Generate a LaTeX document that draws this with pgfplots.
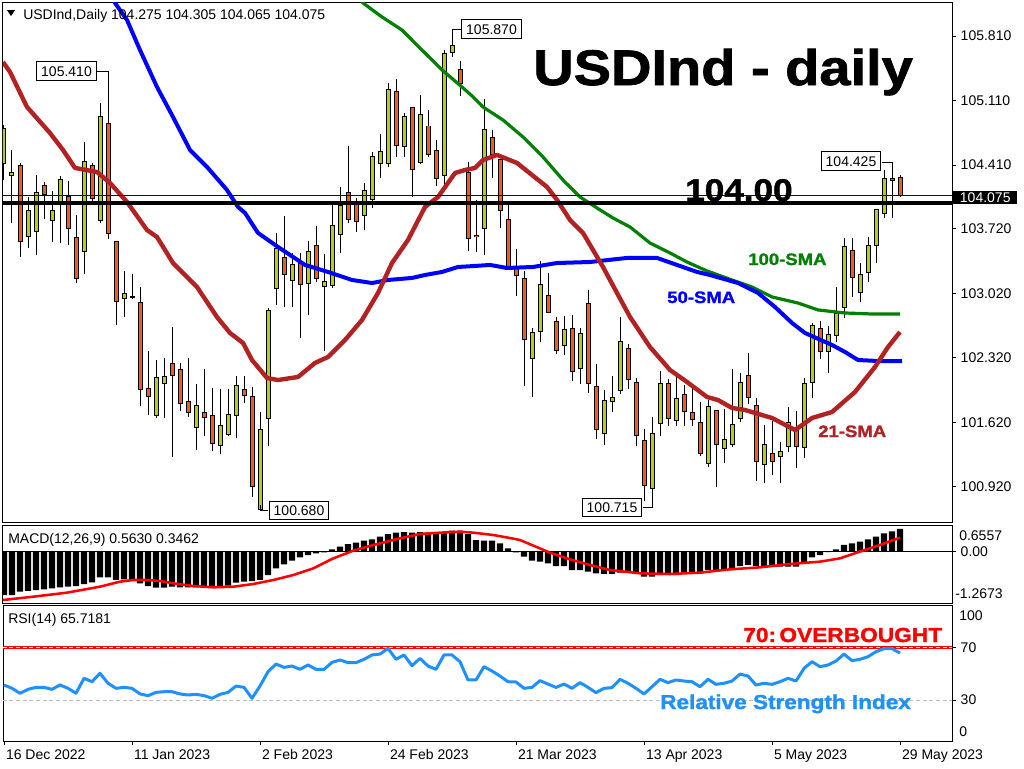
\documentclass[border=0pt]{standalone}
\usepackage{pgfplots}
\pgfplotsset{compat=1.18}
\usepackage{pgfplotstable}
\usepackage{fontspec}
\setmainfont{Liberation Sans}
\newfontfamily\heavy[FakeStretch=1.12,FakeBold=1.5]{Liberation Sans}

\definecolor{bull}{RGB}{180,204,36}
\definecolor{bear}{RGB}{240,90,36}
\definecolor{sma21}{RGB}{178,34,34}
\definecolor{sma50}{RGB}{0,0,255}
\definecolor{sma100}{RGB}{0,128,0}
\definecolor{rsiblue}{RGB}{30,144,255}
\definecolor{bidline}{RGB}{0,0,128}

% daily candles, i = bar number from 16 Dec 2022
\pgfplotstableread{
i O H L C
0 104.430 104.845 104.249 104.809
1 104.300 104.574 103.779 104.325
2 104.401 104.430 103.410 103.584
3 103.634 104.068 103.508 103.913
4 103.689 104.303 103.436 104.112
5 104.184 104.231 103.826 104.090
6 103.808 104.130 103.580 103.913
7 104.021 104.292 103.569 104.256
8 104.075 104.238 103.544 103.721
9 103.627 103.869 103.136 103.179
10 103.475 104.657 103.230 104.451
11 104.408 104.430 104.014 104.050
12 103.808 105.084 103.786 104.939
13 104.863 105.410 103.613 103.671
14 103.584 103.584 102.676 102.929
15 102.962 103.266 102.767 103.020
16 102.984 103.230 102.958 102.980
17 102.922 103.092 101.798 101.979
18 101.990 102.398 101.700 101.899
19 101.693 102.297 101.664 102.109
20 102.044 102.315 101.671 102.123
21 102.261 102.651 101.248 102.127
22 102.196 102.261 101.744 101.827
23 101.849 102.315 101.682 101.729
24 101.567 102.037 101.321 101.805
25 101.729 102.196 101.473 101.675
26 101.697 101.990 101.314 101.393
27 101.364 101.979 101.277 101.588
28 101.491 101.979 101.473 101.708
29 101.693 102.123 101.447 102.018
30 101.979 102.123 101.827 101.914
31 101.899 102.008 100.815 100.923
32 100.680 101.733 100.680 101.545
33 101.664 102.857 101.364 102.839
34 103.074 103.670 102.893 103.508
35 103.410 103.858 102.868 103.226
36 103.154 103.454 102.875 103.334
37 103.345 103.454 102.532 103.117
38 103.128 103.591 102.785 103.472
39 103.540 103.750 103.146 103.183
40 103.099 103.446 102.398 103.146
41 103.103 103.978 103.074 103.757
42 103.660 104.177 103.461 103.978
43 104.115 104.618 103.779 103.822
44 103.996 104.050 103.689 103.804
45 103.866 104.213 103.707 104.133
46 104.032 104.556 103.949 104.498
47 104.430 104.744 104.274 104.563
48 104.430 105.305 104.394 105.232
49 105.214 105.344 104.502 104.621
50 104.618 104.972 104.502 104.936
51 105.037 105.037 104.061 104.365
52 104.437 105.171 104.422 104.961
53 104.835 105.008 104.502 104.527
54 104.574 104.683 104.187 104.267
55 104.303 105.659 104.177 105.623
56 105.633 105.870 105.586 105.713
57 105.449 105.540 105.164 105.297
58 104.332 104.448 103.483 103.616
59 103.652 104.032 103.472 103.638
60 103.725 105.127 103.436 104.798
61 104.712 104.791 104.274 104.531
62 104.466 104.466 103.725 103.913
63 103.822 103.978 103.273 103.309
64 103.309 103.497 102.995 103.208
65 103.183 103.266 102.018 102.521
66 102.308 102.640 101.899 102.597
67 102.604 103.371 102.496 103.117
68 103.002 103.237 102.814 102.814
69 102.713 102.767 102.358 102.395
70 102.452 102.774 102.351 102.629
71 102.640 102.785 102.069 102.177
72 102.206 102.640 102.033 102.586
73 102.911 103.056 101.942 102.044
74 102.008 102.253 101.436 101.545
75 101.502 101.971 101.375 101.852
76 101.852 102.123 101.729 101.892
77 101.961 102.767 101.925 102.496
78 102.423 102.470 101.979 102.087
79 102.051 102.098 101.364 101.473
80 101.422 101.549 100.771 100.934
81 100.898 101.682 100.715 101.502
82 101.610 102.177 101.473 102.044
83 102.044 102.087 101.581 101.664
84 101.639 102.123 101.581 101.881
85 101.925 102.026 101.585 101.737
86 101.729 102.018 101.585 101.657
87 101.621 101.845 101.259 101.285
88 101.176 101.863 101.140 101.791
89 101.747 101.747 100.923 101.375
90 101.339 101.762 101.176 101.429
91 101.382 102.196 101.357 101.599
92 101.664 102.152 101.628 102.051
93 102.127 102.369 101.816 101.892
94 101.801 101.881 100.985 101.198
95 101.165 101.592 100.959 101.375
96 101.285 101.635 101.050 101.194
97 101.248 101.411 100.959 101.303
98 101.357 101.791 101.303 101.617
99 101.538 101.744 101.122 101.357
100 101.346 102.105 101.238 102.044
101 102.055 102.694 101.888 102.676
102 102.640 102.720 102.308 102.387
103 102.387 102.666 102.159 102.568
104 102.561 103.085 102.488 102.803
105 102.868 103.624 102.749 103.526
106 103.490 103.624 102.984 103.193
107 103.031 103.345 102.929 103.226
108 103.244 103.634 103.146 103.537
109 103.537 103.934 103.345 103.924
110 103.887 104.357 103.833 104.267
111 104.267 104.425 103.833 104.242
112 104.275 104.305 104.065 104.075
}\candles

% moving averages
\pgfplotstableread{
i p
-0.125 105.528
0.75 105.420
2.875 105.040
5.75 104.758
7.375 104.574
8.875 104.379
11.625 104.335
13.25 104.216
15.375 104.010
17.875 103.706
19.125 103.630
21.125 103.348
24.125 103.088
26.625 102.762
28.25 102.589
29.875 102.481
31.0 102.296
32.875 102.101
34.25 102.079
36.75 102.112
38.875 102.264
40.5 102.329
42.625 102.513
44.75 102.730
46.75 103.023
48.5 103.348
50.5 103.598
52.625 103.956
54.25 104.064
56.375 104.324
57.625 104.357
58.875 104.379
59.875 104.465
61.625 104.520
64.125 104.433
67.875 104.173
69.125 104.032
70.75 103.815
72.375 103.674
74.875 103.305
76.625 103.023
78.25 102.763
80.75 102.437
83.25 102.188
85.375 102.058
87.875 101.895
89.25 101.862
91.0 101.776
92.625 101.754
96.0 101.667
98.875 101.537
101.0 101.667
103.5 101.732
106.375 101.949
108.875 102.221
110.5 102.437
112.0 102.600
}\smaA

\pgfplotstableread{
i p
12.625 106.418
13.875 106.168
15.375 105.984
17.0 105.658
19.125 105.257
21.125 104.932
23.25 104.574
25.375 104.390
27.875 104.140
29.25 103.956
30.125 103.891
31.75 103.674
34.25 103.522
37.625 103.327
40.5 103.251
43.5 103.164
46.0 103.131
48.0 103.164
51.0 103.186
52.625 103.218
54.75 103.251
56.75 103.305
58.875 103.316
60.75 103.327
62.875 103.294
66.125 103.305
69.125 103.348
73.25 103.359
77.875 103.403
81.625 103.403
84.125 103.327
86.625 103.251
88.25 103.218
91.75 103.131
94.25 103.023
96.375 102.871
98.5 102.698
100.125 102.589
103.5 102.459
105.125 102.383
106.75 102.296
109.25 102.285
112.25 102.285
}\smaB

\pgfplotstableread{
i p
43.25 106.363
44.875 106.168
47.25 106.016
49.75 105.875
52.25 105.658
54.75 105.442
57.25 105.257
58.5 105.160
59.875 105.040
62.375 104.899
64.875 104.715
67.375 104.498
69.875 104.248
72.0 104.064
74.125 103.945
76.125 103.836
78.25 103.739
80.75 103.565
83.25 103.457
85.375 103.359
87.875 103.262
91.0 103.164
93.5 103.088
96.0 102.980
99.25 102.914
101.75 102.839
105.125 102.806
108.5 102.795
112.0 102.795
}\smaC

% MACD(12,26,9) main line as histogram
\pgfplotstableread{
i m
0 -1.070
1 -1.070
2 -0.988
3 -0.971
4 -0.947
5 -0.930
6 -0.906
7 -0.881
8 -0.865
9 -0.848
10 -0.799
11 -0.758
12 -0.634
13 -0.634
14 -0.700
15 -0.684
16 -0.717
17 -0.782
18 -0.848
19 -0.889
20 -0.889
21 -0.865
22 -0.881
23 -0.881
24 -0.881
25 -0.865
26 -0.865
27 -0.865
28 -0.840
29 -0.766
30 -0.741
31 -0.725
32 -0.700
33 -0.577
34 -0.413
35 -0.314
36 -0.224
37 -0.141
38 -0.084
39 -0.043
40 -0.018
41 0.056
42 0.122
43 0.187
44 0.220
45 0.269
46 0.302
47 0.368
48 0.434
49 0.467
50 0.483
51 0.467
52 0.483
53 0.467
54 0.467
55 0.483
56 0.516
57 0.516
58 0.434
59 0.286
60 0.269
61 0.269
62 0.204
63 0.080
64 -0.018
65 -0.125
66 -0.224
67 -0.248
68 -0.289
69 -0.355
70 -0.355
71 -0.454
72 -0.454
73 -0.495
74 -0.536
75 -0.552
76 -0.552
77 -0.519
78 -0.519
79 -0.536
80 -0.618
81 -0.618
82 -0.577
83 -0.577
84 -0.577
85 -0.552
86 -0.552
87 -0.536
88 -0.454
89 -0.454
90 -0.454
91 -0.454
92 -0.355
93 -0.330
94 -0.355
95 -0.355
96 -0.372
97 -0.372
98 -0.372
99 -0.372
100 -0.273
101 -0.141
102 -0.084
103 -0.010
104 0.056
105 0.163
106 0.204
107 0.245
108 0.302
109 0.368
110 0.450
111 0.500
112 0.563
}\macd

\pgfplotstableread{
i s
-0.125 -1.193
3.67 -1.111
7.83 -1.013
12.0 -0.865
14.5 -0.741
16.17 -0.700
17.83 -0.700
19.5 -0.725
21.17 -0.782
23.67 -0.848
26.17 -0.881
28.67 -0.865
31.17 -0.799
33.67 -0.700
36.17 -0.577
38.67 -0.413
41.17 -0.166
43.67 0.023
46.17 0.163
49.5 0.327
52.0 0.434
54.5 0.467
57.0 0.491
58.67 0.467
61.17 0.409
63.46 0.327
64.5 0.286
68.25 -0.026
70.75 -0.191
73.25 -0.330
75.75 -0.454
79.5 -0.536
83.25 -0.552
87.0 -0.519
90.75 -0.437
94.5 -0.388
98.25 -0.306
102.0 -0.248
104.5 -0.166
107.0 0.0
109.5 0.163
112.0 0.346
}\signal

% RSI(14)
\pgfplotstableread{
i r
0 41.4
1 38.9
2 35.1
3 38.1
4 39.6
5 39.6
6 38.1
7 41.4
8 38.9
9 35.1
10 46.5
11 43.9
12 50.3
13 42.7
14 38.9
15 39.6
16 38.9
17 34.6
18 33.3
19 35.8
20 36.3
21 36.3
22 34.6
23 33.8
24 34.3
25 33.3
26 31.3
27 34.3
28 35.8
29 40.6
30 39.6
31 31.3
32 40.6
33 51.5
34 57.3
35 54.8
36 55.8
37 53.3
38 56.6
39 53.3
40 53.3
41 58.6
42 60.4
43 58.4
44 58.4
45 60.9
46 64.2
47 64.9
48 69.2
49 60.9
50 64.2
51 56.1
52 61.6
53 55.8
54 53.3
55 64.2
56 64.2
57 59.1
58 45.2
59 45.2
60 55.3
61 52.0
62 48.2
63 43.9
64 43.7
65 38.9
66 39.6
67 44.7
68 42.1
69 39.6
70 42.1
71 38.9
72 43.2
73 39.6
74 35.6
75 38.9
76 39.4
77 45.7
78 42.7
79 38.9
80 34.6
81 40.1
82 45.7
83 43.2
84 45.2
85 44.4
86 43.9
87 40.1
88 45.7
89 41.9
90 42.7
91 44.4
92 49.7
93 48.2
94 41.4
95 42.7
96 41.9
97 43.9
98 46.5
99 44.4
100 54.0
101 59.1
102 55.3
103 56.6
104 59.6
105 64.9
106 59.9
107 60.9
108 62.9
109 66.7
110 69.0
111 69.0
112 65.7
}\rsi

\pgfplotsset{
  mt4/.style={
    scale only axis, width=711.75pt, xmin=-0.125, xmax=118.5,
    anchor=south west, axis line style={line width=0.75pt},
    xtick=\empty, ytick pos=right, yticklabel pos=right,
    tick align=outside, major tick length=3pt,
    tick style={black, line width=0.75pt},
    ticklabel style={font=\fontsize{10.5}{12}\selectfont},
    yticklabel style={anchor=west, /pgf/number format/assume math mode=true},
  },
  % candles drawn as error bars of an invisible plot
  wick/.style={draw=none, mark=none,
    error bars/y dir=both, error bars/y explicit, error bars/error mark=none,
    error bars/error bar style={draw=black, line width=0.75pt}},
  body/.style 2 args={draw=none, mark=none,
    error bars/y dir=both, error bars/y explicit, error bars/error mark=none,
    error bars/error bar style={draw=#1, line width=#2}},
}

\begin{document}
\begin{tikzpicture}
\path[use as bounding box] (0,0) rectangle (768pt,-576pt);

% ---- price panel
\begin{axis}[mt4, at={(2.25pt,-391.5pt)}, height=389.25pt,
  ymin=100.539, ymax=106.168, scaled y ticks=false,
  ytick={100.92,101.62,102.32,103.02,103.72,104.41,105.11,105.81},
  yticklabel style={/pgf/number format/fixed, /pgf/number format/fixed zerofill,
    /pgf/number format/precision=3}]
\addplot[wick] table[x=i, y expr={(\thisrow{H}+\thisrow{L})/2},
  y error expr={(\thisrow{H}-\thisrow{L})/2}] {\candles};
% bullish bodies
\addplot[restrict expr to domain={\thisrow{C}-\thisrow{O}}{0:10}, body={black}{3.75pt}]
  table[x=i, y expr={(\thisrow{O}+\thisrow{C})/2},
  y error expr={abs(\thisrow{C}-\thisrow{O})/2+0.0054}] {\candles};
\addplot[restrict expr to domain={\thisrow{C}-\thisrow{O}}{0:10}, body={bull}{2.25pt}]
  table[x=i, y expr={(\thisrow{O}+\thisrow{C})/2},
  y error expr={max(abs(\thisrow{C}-\thisrow{O})/2-0.0054,0)}] {\candles};
% bearish bodies
\addplot[restrict expr to domain={\thisrow{O}-\thisrow{C}}{0.00001:10}, body={black}{3.75pt}]
  table[x=i, y expr={(\thisrow{O}+\thisrow{C})/2},
  y error expr={abs(\thisrow{C}-\thisrow{O})/2+0.0054}] {\candles};
\addplot[restrict expr to domain={\thisrow{O}-\thisrow{C}}{0.00001:10}, body={bear}{2.25pt}]
  table[x=i, y expr={(\thisrow{O}+\thisrow{C})/2},
  y error expr={max(abs(\thisrow{C}-\thisrow{O})/2-0.0054,0)}] {\candles};

\addplot[sma100, line width=2.4pt, line join=round] table[x=i, y=p] {\smaC};
\addplot[sma50, line width=3pt, line join=round] table[x=i, y=p] {\smaB};
\addplot[sma21, line width=3.3pt, line join=round] table[x=i, y=p] {\smaA};
\addplot[black, line width=3pt] coordinates {(-1,104.00) (120,104.00)};
\addplot[bidline, line width=0.75pt] coordinates {(-1,104.075) (120,104.075)};
\end{axis}

% ---- MACD panel
\begin{axis}[mt4, at={(2.25pt,-452.25pt)}, height=58.5pt,
  ymin=-1.2673, ymax=0.6557, ytick={0}, yticklabels={0.00}]
\addplot[ybar, bar width=4.6pt, fill=black, draw=none] table[x=i, y=m] {\macd};
\addplot[black, line width=0.75pt] coordinates {(-1,0) (120,0)};
\addplot[red, line width=1.9pt, line join=round] table[x=i, y=s] {\signal};
\end{axis}

% ---- RSI panel
\begin{axis}[mt4, at={(2.25pt,-555.75pt)}, height=102pt,
  ymin=-1.15, ymax=102.15, ytick={30,70},
  xtick={0,16,32,48,64,80,96,112},
  xticklabels={16 Dec 2022, 11 Jan 2023, 2 Feb 2023, 24 Feb 2023,
    21 Mar 2023, 13 Apr 2023, 5 May 2023, 29 May 2023},
  xtick pos=bottom, xticklabel style={anchor=north west, xshift=-2pt}]
\addplot[red, line width=2.25pt] coordinates {(-1,70) (120,70)};
\addplot[white, line width=0.6pt, dash pattern=on 3pt off 2pt] coordinates {(-1,70) (120,70)};
\addplot[black!25, line width=0.75pt, dash pattern=on 3pt off 2pt] coordinates {(-1,30) (120,30)};
\addplot[rsiblue, line width=2.25pt, line join=round] table[x=i, y=r] {\rsi};
\end{axis}

% ---- texts and annotations, in pixels from the top left corner
\begin{scope}[x=0.75pt, y=-0.75pt,
  small/.style={font=\fontsize{10.5}{12}\selectfont},
  box/.style={small, draw=black, line width=0.75pt, fill=white,
    inner xsep=3.5pt, inner ysep=3pt, text height=7.6pt, text depth=0pt}]
\fill (7,10) -- (15,10) -- (11,16) -- cycle;
\node[small, anchor=base west, inner sep=0pt] at (23,19) {USDInd,Daily 104.275 104.305 104.065 104.075};
\node[small, anchor=base west, inner sep=0pt] at (8,543) {MACD(12,26,9) 0.5630 0.3462};
\node[small, anchor=base west, inner sep=0pt] at (8,623) {RSI(14) 65.7181};

\node[small, anchor=west, inner sep=0pt] at (959,536) {0.6557};
\node[small, anchor=west, inner sep=0pt] at (955,594) {-1.2673};
\node[small, anchor=west, inner sep=0pt] at (959,616) {100};
\node[small, anchor=west, inner sep=0pt] at (959,732) {0};
\node[small, anchor=west, fill=black, text=white, inner xsep=5pt, inner ysep=0.8pt] at (953,197.5) {104.075};

\node[anchor=base west, inner sep=0pt, font=\heavy\bfseries\fontsize{37.5}{40}\selectfont] at (533,85) {USDInd - daily};
\node[anchor=base west, inner sep=0pt, font=\heavy\bfseries\fontsize{23.5}{26}\selectfont] at (685,201) {104.00};
\node[anchor=base west, inner sep=0pt, text=sma100, font=\heavy\bfseries\fontsize{12.4}{14}\selectfont] at (748,265) {100-SMA};
\node[anchor=base west, inner sep=0pt, text=sma50, font=\heavy\bfseries\fontsize{12.4}{14}\selectfont] at (667,303) {50-SMA};
\node[anchor=base west, inner sep=0pt, text=sma21, font=\heavy\bfseries\fontsize{12.4}{14}\selectfont] at (818,437) {21-SMA};
\node[anchor=base west, inner sep=0pt, text=red, font=\heavy\bfseries\fontsize{15.2}{17}\selectfont] at (743,642) {70:\,OVERBOUGHT};
\node[anchor=base west, inner sep=0pt, text=rsiblue, font=\heavy\bfseries\fontsize{15.1}{17}\selectfont] at (660,709) {Relative Strength Index};

\draw[line width=0.75pt] (97,71) -- (108,71) -- (108,123);
\node[box] at (66.5,71) {105.410};
\draw[line width=0.75pt] (461,29) -- (452,29) -- (452,45);
\node[box] at (491.5,29) {105.870};
\draw[line width=0.75pt] (268,510) -- (260,510) -- (260,505);
\node[box] at (299,510.5) {100.680};
\draw[line width=0.75pt] (643,507) -- (652,507) -- (652,489);
\node[box] at (612,507.5) {100.715};
\draw[line width=0.75pt] (882,162) -- (892,162) -- (892,178);
\node[box] at (851,161) {104.425};
\end{scope}
\end{tikzpicture}
\end{document}
